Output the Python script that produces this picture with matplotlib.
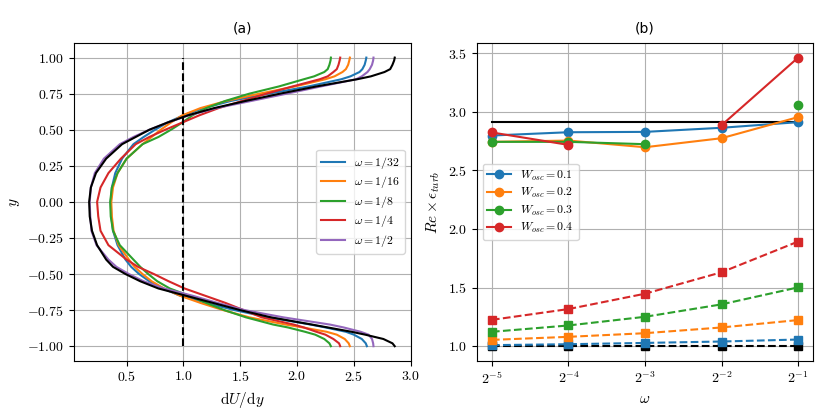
import numpy as np
import matplotlib
matplotlib.use('Agg')
import matplotlib.pyplot as plt

plt.rcParams['font.family'] = 'serif'
plt.rcParams['font.serif'] = ['cmr10']
plt.rcParams['mathtext.fontset'] = 'cm'
plt.rcParams['axes.formatter.use_mathtext'] = True
plt.rcParams['font.size'] = 10

# ── (a) dU/dy profiles ──────────────────────────────────────────────────────
y_prof = [1.0, 0.98, 0.95, 0.92, 0.9, 0.87, 0.85, 0.8, 0.75, 0.7, 0.65, 0.6,
          0.55, 0.5, 0.45, 0.4, 0.3, 0.2, 0.1, 0.0,
          -0.1, -0.2, -0.3, -0.4, -0.45, -0.5, -0.55, -0.6, -0.65, -0.7,
          -0.75, -0.8, -0.85, -0.87, -0.9, -0.92, -0.95, -0.98, -1.0]

dudy_ref = [2.86, 2.855, 2.84, 2.82, 2.77, 2.65, 2.53, 2.17, 1.85, 1.55, 1.27, 1.04,
            0.86, 0.70, 0.58, 0.46, 0.32, 0.23, 0.185, 0.17,
            0.175, 0.195, 0.24, 0.32, 0.38, 0.49, 0.62, 0.78, 1.02, 1.26,
            1.50, 1.77, 2.13, 2.27, 2.48, 2.60, 2.76, 2.84, 2.86]
dudy_w32 = [2.61, 2.605, 2.595, 2.575, 2.55, 2.47, 2.39, 2.10, 1.75, 1.42, 1.18, 1.00,
            0.86, 0.75, 0.65, 0.56, 0.46, 0.40, 0.37, 0.36,
            0.365, 0.38, 0.42, 0.49, 0.54, 0.61, 0.70, 0.82, 0.97, 1.20,
            1.45, 1.75, 2.12, 2.25, 2.43, 2.50, 2.57, 2.605, 2.615]
dudy_w16 = [2.465, 2.46, 2.45, 2.43, 2.40, 2.33, 2.25, 1.98, 1.67, 1.38, 1.15, 0.99,
            0.89, 0.80, 0.72, 0.64, 0.50, 0.42, 0.38, 0.365,
            0.37, 0.385, 0.43, 0.52, 0.57, 0.64, 0.72, 0.83, 0.97, 1.15,
            1.35, 1.58, 1.90, 2.05, 2.26, 2.35, 2.42, 2.455, 2.465]
dudy_w8 = [2.298, 2.295, 2.285, 2.27, 2.24, 2.15, 2.06, 1.84, 1.58, 1.37, 1.20, 1.08,
           0.99, 0.89, 0.78, 0.64, 0.50, 0.42, 0.37, 0.355,
           0.36, 0.38, 0.44, 0.56, 0.62, 0.69, 0.77, 0.88, 1.05, 1.20,
           1.36, 1.55, 1.79, 1.92, 2.07, 2.16, 2.24, 2.285, 2.298]
dudy_w4 = [2.38, 2.375, 2.365, 2.35, 2.32, 2.27, 2.20, 1.96, 1.73, 1.52, 1.31, 1.14,
           0.99, 0.84, 0.70, 0.58, 0.45, 0.34, 0.27, 0.24,
           0.25, 0.27, 0.34, 0.50, 0.60, 0.74, 0.87, 1.01, 1.19, 1.37,
           1.53, 1.69, 1.97, 2.06, 2.17, 2.25, 2.32, 2.37, 2.38]
dudy_w2 = [2.673, 2.67, 2.66, 2.64, 2.62, 2.57, 2.52, 2.21, 1.91, 1.60, 1.29, 1.05,
           0.86, 0.70, 0.56, 0.44, 0.30, 0.22, 0.185, 0.175,
           0.18, 0.19, 0.235, 0.34, 0.41, 0.52, 0.65, 0.83, 1.08, 1.30,
           1.54, 1.88, 2.29, 2.41, 2.56, 2.63, 2.66, 2.67, 2.673]

profile_labels = ['1/32', '1/16', '1/8', '1/4', '1/2']
profiles = [dudy_w32, dudy_w16, dudy_w8, dudy_w4, dudy_w2]

# ── (b) Re x eps_turb vs omega ──────────────────────────────────────────────
omega = [2**-5, 2**-4, 2**-3, 2**-2, 2**-1]
w_osc = ['0.1', '0.2', '0.3', '0.4']

turb_ref = [2.912, 2.912, 2.912, 2.912, 2.912]
lam_ref = [1.0, 1.0, 1.0, 1.0, 1.0]

turb = [
    [2.798, 2.826, 2.829, 2.864, 2.912],
    [2.744, 2.755, 2.698, 2.775, 2.955],
    [2.744, 2.744, 2.724, np.nan, 3.057],
    [2.824, 2.718, np.nan, 2.886, 3.463],
]
lam = [
    [1.009, 1.017, 1.028, 1.040, 1.057],
    [1.054, 1.080, 1.111, 1.160, 1.223],
    [1.123, 1.177, 1.251, 1.357, 1.502],
    [1.225, 1.317, 1.448, 1.631, 1.893],
]

colors = ['C0', 'C1', 'C2', 'C3', 'C4']

fig, (ax1, ax2) = plt.subplots(1, 2, figsize=(8.3, 4.15), dpi=100)
fig.subplots_adjust(left=0.089, right=0.98, top=0.896, bottom=0.131, wspace=0.196)

for lab, xs, col in zip(profile_labels, profiles, colors):
    ax1.plot(xs, y_prof, color=col, label=r'$\omega = %s$' % lab)
ax1.plot(dudy_ref, y_prof, color='k')
ax1.plot([1.0, 1.0], [-1.0, 1.0], 'k--')
ax1.set_xticks([0.5, 1.0, 1.5, 2.0, 2.5, 3.0])
ax1.set_yticks([-1.0, -0.75, -0.5, -0.25, 0.0, 0.25, 0.5, 0.75, 1.0])
ax1.set_xlabel(r'$\mathrm{d}U/\mathrm{d}y$', fontsize=11)
ax1.set_ylabel(r'$y$', fontsize=11)
ax1.set_title('(a)', family='DejaVu Sans', fontsize=10, pad=8)
ax1.legend(loc='center right', fontsize=8.5, labelspacing=0.3, handlelength=2.0)
ax1.grid(True)

ax2.plot(omega, lam_ref, 'k--s')
ax2.plot(omega, turb_ref, 'k-')
for i, (lab, col) in enumerate(zip(w_osc, colors)):
    ax2.plot(omega, turb[i], '-o', color=col, label=r'$W_{osc} = %s$' % lab)
    ax2.plot(omega, lam[i], '--s', color=col)
ax2.set_xscale('log', base=2)
ax2.set_xticks(omega)
ax2.set_xlabel(r'$\omega$', fontsize=11)
ax2.set_ylabel(r'$Re \times \epsilon_{turb}$', fontsize=11)
ax2.set_title('(b)', family='DejaVu Sans', fontsize=10, pad=8)
ax2.legend(loc='center left', fontsize=8.5, labelspacing=0.3, handlelength=2.0)
ax2.grid(True)

plt.savefig('out.png', dpi=100, facecolor='white')
plt.close()
